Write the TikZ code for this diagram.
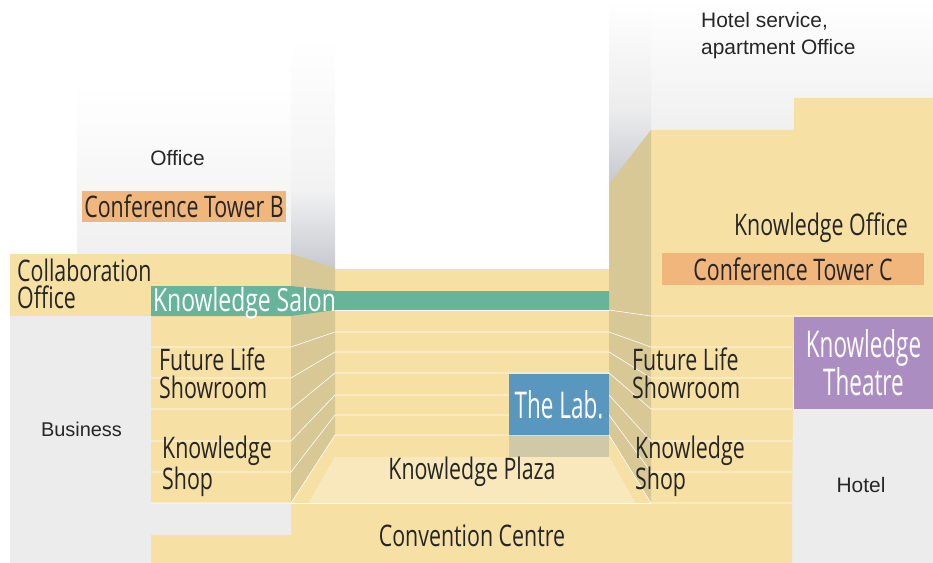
\documentclass[tikz,border=0pt]{standalone}
\usepackage{fontspec}
\setmainfont{Liberation Sans}
\newfontfamily\condfont[FakeStretch=0.72]{Open Sans}
\newfontfamily\tallfont[FakeStretch=0.61]{Open Sans}
\usepackage[x11names, rgb]{xcolor}
\definecolor{front}{HTML}{F6E0A4}
\definecolor{wall}{HTML}{D7C896}
\definecolor{plaza}{HTML}{F8E8BC}
\definecolor{under}{HTML}{CFC9A8}
\definecolor{grey}{HTML}{ECECED}
\definecolor{orange}{HTML}{F0B67C}
\definecolor{salon}{HTML}{67B49B}
\definecolor{lab}{HTML}{5A97BF}
\definecolor{theatre}{HTML}{AB8DC1}
\definecolor{fade}{HTML}{C6C9D0}

\begin{document}
\begin{tikzpicture}[x=1bp, y=-1bp,
	cond/.style={font=\condfont\fontsize{29.8}{27.8}\selectfont, inner sep=0pt, align=left, text=black!85},
	tall/.style={font=\tallfont\fontsize{37}{33}\selectfont, inner sep=0pt, align=center, text=white},
	plain/.style={font=\fontsize{21}{27}\selectfont, inner sep=0pt, align=left, text=black!85},
	box/.style={minimum height=31bp},
	line/.style={white, line width=0.6pt}]
	\useasboundingbox (0,0) rectangle (933,563);

	% towers
	\shade[top color=white, bottom color=grey!80] (77,85) rectangle (291,254);
	\shade[top color=white, bottom color=grey!70] (291,40) rectangle (335,190.5);
	\shade[top color=grey!70, bottom color=fade] (291,190) rectangle (335,268);
	\shade[top color=white, bottom color=grey!80] (651,0) rectangle (933,130);
	\shade[top color=white, bottom color=grey] (609,0) rectangle (651,110.5);
	\shade[top color=grey, bottom color=fade] (609,110) rectangle (651,184);

	% grey floors
	\fill[grey] (10,316) -- (151,316) -- (151,503) -- (291,503) -- (291,535) -- (151,535) -- (151,563) -- (10,563) -- cycle;
	\fill[grey] (792,409) rectangle (933,563);

	% yellow floors
	\fill[front] (10,254) rectangle (291,316);
	\fill[front] (151,316) rectangle (291,503);
	\fill[front] (335,269) rectangle (609,457);
	\fill[front] (291,503) -- (792,503) -- (792,563) -- (151,563) -- (151,535) -- (291,535) -- cycle;
	\fill[front] (651,130) -- (794,130) -- (794,98) -- (933,98) -- (933,317) -- (794,317) -- (792,503) -- (651,503) -- cycle;
	\fill[front] (291,503) -- (335,435) -- (335,457) -- (309,503) -- cycle;
	\fill[front] (651,503) -- (609,435) -- (609,457) -- (635,503) -- cycle;
	\fill[plaza] (335,457) -- (609,457) -- (635,503) -- (309,503) -- cycle;
	\fill[under] (509,435) rectangle (609,457);

	% side walls
	\fill[wall] (291,254) -- (335,268) -- (335,435) -- (291,503) -- cycle;
	\fill[wall] (609,184) -- (651,130) -- (651,503) -- (609,435) -- cycle;

	% salon band
	\fill[salon] (151,286) -- (291,286) -- (335,291) -- (609,291) -- (609,310) -- (335,310) -- (291,316) -- (151,316) -- cycle;

	% floor lines
	\foreach \l/\c/\r in {347/332/347, 378/352/378, 409/373/409, 441/395/441, 472/415/472, 503/435/503} {
		\draw[line] (151,\l) -- (291,\l) -- (335,\c) -- (609,\c) -- (651,\r) -- (792,\r);
	}
	\draw[line] (609,310) -- (651,316) -- (933,316);
	\draw[line] (335,310) -- (609,310);
	\draw[line] (291,503) -- (651,503);

	\node (towerb) at (184,206.5) [cond, box, fill=orange, minimum width=204bp] {Conference Tower B};
	\node (towerc) at (793,269) [cond, box, fill=orange, minimum width=262bp] {Conference Tower C};
	\node (lab) at (559,404.5) [tall, box, fill=lab, minimum width=100bp, minimum height=61bp] {The Lab.};
	\node (theatre) at (863.5,363) [tall, box, fill=theatre, minimum width=139bp, minimum height=92bp] {Knowledge\\Theatre};

	\node (salonlabel) at (244.5,303.5) [cond, font=\condfont\fontsize{32}{32}\selectfont, text=white] {Knowledge Salon};
	\node (collab) at (17,284) [cond, anchor=west] {Collaboration\\Office};
	\node (futurel) at (159,373) [cond, anchor=west] {Future Life\\Showroom};
	\node (shopl) at (162,466) [cond, anchor=west] {Knowledge\\Shop};
	\node (futurer) at (632,373) [cond, anchor=west] {Future Life\\Showroom};
	\node (shopr) at (635,466) [cond, anchor=west] {Knowledge\\Shop};
	\node (plazalabel) at (472,472) [cond] {Knowledge Plaza};
	\node (convention) at (472,536) [cond] {Convention Centre};
	\node (koffice) at (821,228) [cond] {Knowledge Office};

	\node (office) at (177.5,158) [plain] {Office};
	\node (business) at (81.5,429) [plain, font=\fontsize{20}{27}\selectfont] {Business};
	\node (hotel) at (861,485) [plain] {Hotel};
	\node (service) at (701,36) [plain, anchor=west] {Hotel service,\\apartment Office};
\end{tikzpicture}
\end{document}
